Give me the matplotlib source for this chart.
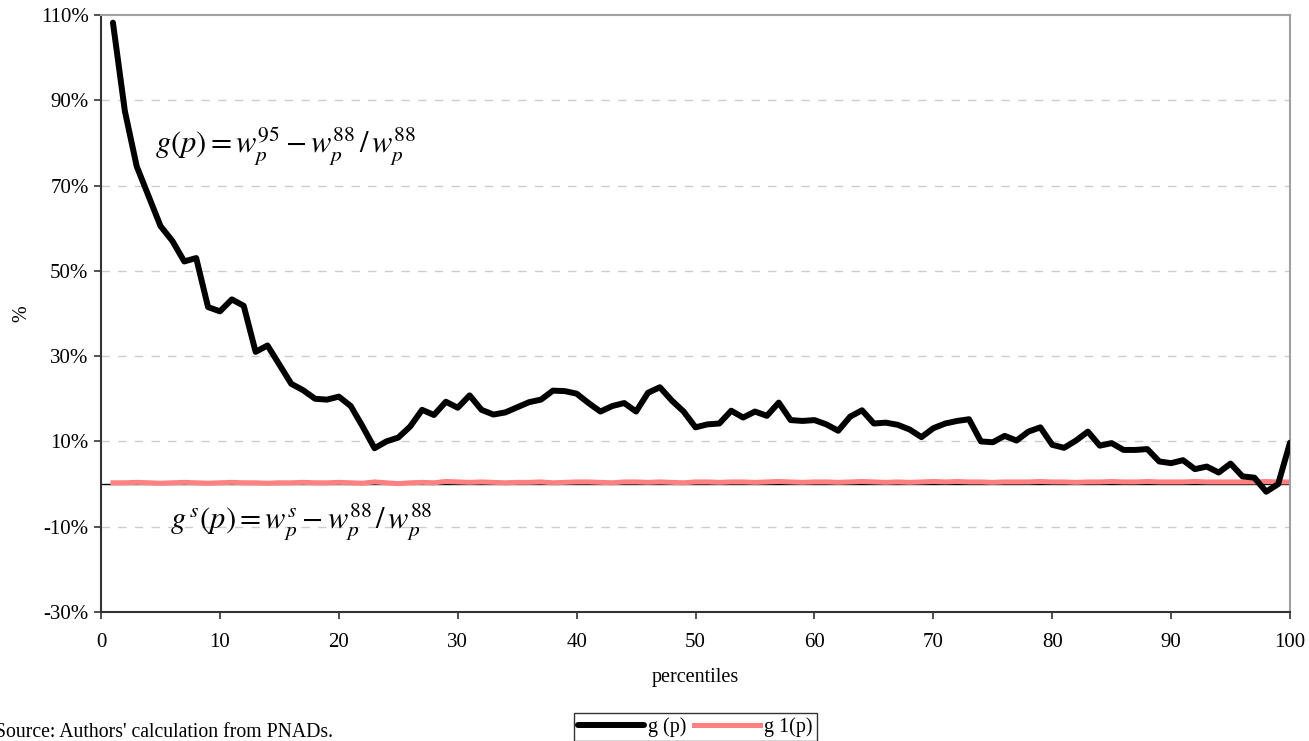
import numpy as np
import matplotlib.pyplot as plt
from matplotlib.ticker import FuncFormatter, MultipleLocator

plt.rcParams['font.family'] = ['Liberation Serif', 'DejaVu Serif']
plt.rcParams['mathtext.fontset'] = 'stix'

# Percentile growth of wages, in %
percentiles = np.arange(1, 101)
g_p = [108.2, 87.5, 74.5, 67.5, 60.5, 57.0, 52.2, 53.0, 41.5, 40.5,
       43.3, 41.8, 31.0, 32.5, 28.0, 23.5, 22.0, 20.0, 19.8, 20.5,
       18.3, 13.5, 8.4, 10.0, 10.9, 13.5, 17.4, 16.2, 19.3, 17.9,
       20.8, 17.4, 16.3, 16.8, 18.0, 19.2, 19.8, 21.9, 21.8, 21.2,
       19.0, 17.0, 18.3, 19.0, 17.0, 21.4, 22.7, 19.6, 17.0, 13.3,
       14.0, 14.2, 17.2, 15.6, 17.0, 16.0, 19.1, 15.0, 14.8, 15.0,
       14.0, 12.5, 15.8, 17.3, 14.2, 14.4, 13.9, 12.8, 11.0, 13.1,
       14.2, 14.8, 15.2, 10.0, 9.8, 11.3, 10.2, 12.3, 13.3, 9.2,
       8.5, 10.2, 12.3, 9.0, 9.6, 8.0, 8.0, 8.2, 5.3, 4.9,
       5.6, 3.5, 4.1, 2.7, 4.8, 1.8, 1.5, -1.8, 0.0, 9.7]
g1_p = [0.3, 0.3, 0.4, 0.3, 0.2, 0.3, 0.4, 0.3, 0.2, 0.3,
        0.4, 0.3, 0.3, 0.2, 0.3, 0.3, 0.4, 0.3, 0.3, 0.4,
        0.3, 0.2, 0.5, 0.3, 0.1, 0.3, 0.4, 0.3, 0.6, 0.5,
        0.4, 0.5, 0.4, 0.3, 0.4, 0.4, 0.5, 0.3, 0.4, 0.5,
        0.5, 0.4, 0.3, 0.5, 0.5, 0.4, 0.5, 0.4, 0.3, 0.5,
        0.5, 0.4, 0.5, 0.5, 0.4, 0.5, 0.6, 0.5, 0.4, 0.5,
        0.5, 0.4, 0.5, 0.6, 0.5, 0.4, 0.5, 0.4, 0.5, 0.6,
        0.5, 0.6, 0.5, 0.5, 0.4, 0.5, 0.5, 0.5, 0.6, 0.5,
        0.5, 0.4, 0.5, 0.5, 0.6, 0.5, 0.5, 0.6, 0.5, 0.5,
        0.5, 0.6, 0.5, 0.5, 0.5, 0.5, 0.5, 0.6, 0.5, 0.5]

fig = plt.figure(figsize=(13.09, 7.41), dpi=100)
ax = fig.add_axes([0.0772, 0.1741, 0.9083, 0.8057])

ax.axhline(0, color='black', lw=1.0, zorder=1)
ax.plot(percentiles, g_p, color='black', lw=4.3, solid_capstyle='round',
        solid_joinstyle='round', label='g (p)', zorder=3)
ax.plot(percentiles, g1_p, color='#ff8080', lw=3.6, label='g 1(p)', zorder=2)

ax.set_xlim(0, 100)
ax.set_ylim(-30, 110)
ax.xaxis.set_major_locator(MultipleLocator(10))
ax.set_yticks(np.arange(-30, 111, 20))
ax.yaxis.set_major_formatter(FuncFormatter(lambda v, _: f'{v:.0f}%'))
ax.tick_params(labelsize=15, direction='out', length=5, width=1.2, color='#333333')
ax.tick_params(axis='x', pad=10)
ax.tick_params(axis='y', pad=4)

for y in np.arange(-10, 100, 20):
    ax.axhline(y, color='#cccccc', lw=1.0, ls=(0, (6, 6)), zorder=0)

for side in ('left', 'bottom'):
    ax.spines[side].set_color('#333333')
    ax.spines[side].set_linewidth(1.5)
for side in ('top', 'right'):
    ax.spines[side].set_color('#a0a0a0')
    ax.spines[side].set_linewidth(1.5)

ax.set_xlabel('percentiles', fontsize=14.5, labelpad=12)
ax.set_ylabel('%', fontsize=14.5)
ax.yaxis.set_label_coords(-0.059, 0.5)

ax.text(4.5, 79, r'$g\left(p\right) = w_p^{95} - w_p^{88}\,/\,w_p^{88}$',
        fontsize=22, va='center', ha='left')
ax.text(5.8, -9, r'$g^{\,s}\left(p\right) = w_p^{s} - w_p^{88}\,/\,w_p^{88}$',
        fontsize=22, va='center', ha='left')

fig.text(-0.004, -0.002, "Source: Authors' calculation from PNADs.", fontsize=14.2,
         ha='left', va='bottom')

leg = fig.legend(loc='lower center', bbox_to_anchor=(0.531, 0.0), ncol=2,
                 fontsize=14.5, frameon=True, fancybox=False, edgecolor='black',
                 handlelength=3.3, handletextpad=0.2, columnspacing=0.35,
                 borderpad=0.2, borderaxespad=0.0)
leg.get_frame().set_linewidth(1.0)

fig.savefig('out.png', dpi=100)
